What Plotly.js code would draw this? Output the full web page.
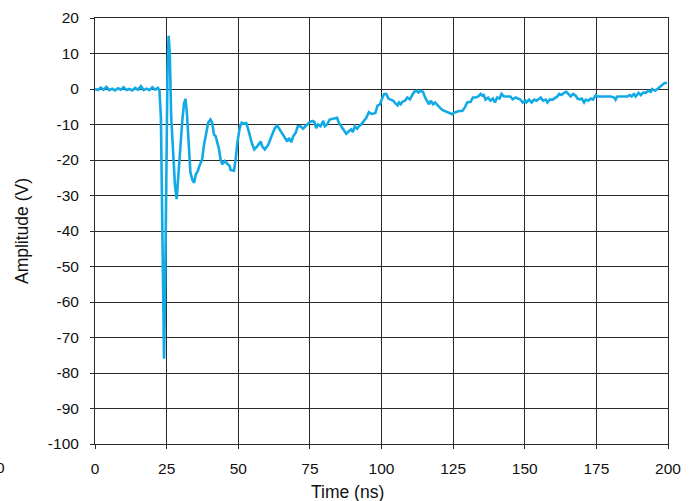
<!DOCTYPE html>
<html>
<head>
<meta charset="utf-8">
<script src="https://cdn.plot.ly/plotly-3.0.1.min.js"></script>
<style>html,body{margin:0;padding:0;background:#fff}#chart{width:695px;height:501px}</style>
</head>
<body>
<div id="chart"></div>
<script>
const timeNs = [0,1,2,3,4,5,6,7,8,9,10,11,12,13,14,15,16,17,18,19,20,21,22,22.5,23,23.4,23.8,24.1,24.5,24.9,25.3,25.7,26.1,26.6,27.3,27.9,28.5,29.1,29.8,30.5,31.1,31.6,32.1,32.7,33.3,34,34.6,35.2,35.8,36.3,36.9,37.4,38,38.8,39.5,40.3,40.9,41.5,42.1,42.7,43.3,43.8,44.4,45.3,45.8,46.5,47,47.3,48.5,49.1,49.7,50.5,51.2,52,52.8,53.7,54.7,55.6,56.6,57.8,58.4,59.3,60.5,61.6,62.8,63.6,64.4,65.3,66.3,67.1,67.7,68.5,69.2,70,70.8,71.7,72.6,73.5,74.7,75.8,76.6,77.2,77.9,78.7,79.7,80.2,81,81.9,83,84,84.5,85.1,86,86.9,87.7,88.6,89.4,90,90.7,91.5,92.1,92.9,93.8,94.7,95.6,96.5,97.3,97.9,98.6,99.4,100.1,100.9,101.7,102.4,103.2,104.1,104.8,105.6,106.1,106.7,107.3,108.2,109,109.9,110.6,111.4,112.2,112.9,113.7,114.5,115.2,116,116.6,117.2,118,118.7,119.5,120.3,121.2,122.2,123,123.8,124.7,125.3,126.1,127,128.2,129.1,129.9,131.1,131.9,132.8,133.8,134.6,135.2,135.7,136.3,137.2,138,138.9,139.6,140.4,141.2,141.9,142.7,143.9,145,145.8,146.8,147.7,148.5,149.3,150.2,150.6,151.5,152.4,153.3,154.1,155,155.6,156.4,157.3,157.9,158.7,159.7,160.6,161.4,162,162.9,163.7,164.5,165.2,166,166.9,167.8,168.4,169.2,169.9,170.7,171.3,172.2,173,173.8,174.8,175.3,176.5,178.3,180,181.2,181.7,182.3,184.1,185.8,186.7,187.3,188.1,188.7,189.7,190.5,191.3,192.2,193.1,194,194.5,195.5,196.3,197.1,198,198.8,199.7];
const amplitudeV = [0,-0.3,0.4,-0.2,0.6,-0.3,0.1,-0.4,0.2,-0.2,0.5,-0.3,0,-0.4,0.3,-0.2,0.8,-0.3,0.1,-0.3,0.5,-0.2,0.3,-0.5,-8,-40,-68,-76,-55,-20,5,15,10,-8,-20,-27,-31,-24,-14,-8.6,-4,-2.8,-7,-17,-23.5,-25.6,-26.4,-24,-23.3,-22,-20.5,-19.8,-16,-12.3,-9.5,-8.6,-9.5,-12.8,-13.3,-15.1,-17,-19.8,-21.2,-20.3,-20.7,-21.2,-21.7,-22.8,-23,-19.8,-15.1,-11,-9.5,-9.8,-9.6,-12,-15.2,-17,-16.2,-14.8,-16.2,-17,-15.7,-13.3,-11,-10.3,-11.4,-12.4,-13.8,-14.8,-13.8,-15,-13.3,-12.4,-10.5,-10.5,-11.2,-10.5,-9.5,-9,-9.3,-11,-10,-10.5,-9,-10.5,-10,-8.6,-8.4,-8.1,-8.1,-9.5,-10.5,-11.4,-12.6,-11.9,-11.4,-12.1,-10.5,-11.2,-10.5,-10,-9,-8.1,-6.5,-7,-6.9,-6.7,-4.7,-4.4,-2.9,-1.4,-1.4,-2.7,-3,-3.3,-4,-4.6,-3.8,-4.3,-3.6,-3.3,-2.4,-2.9,-1.9,-0.8,-0.5,-1,-0.5,-0.8,-2.4,-3.3,-4.3,-3.3,-4.3,-3.8,-4.6,-5.2,-5.9,-6.2,-6.5,-6.7,-7.1,-6.7,-6.5,-6.2,-6.2,-5.2,-3.8,-3.6,-2.4,-2.4,-2.1,-1.4,-1.9,-1.7,-3,-2.4,-3.3,-2.7,-3.8,-2.4,-2.7,-1.4,-2.1,-2.1,-2.1,-2.9,-2.4,-2.7,-3,-3.8,-3.3,-3.8,-3,-3.8,-3,-3.3,-2.9,-2.4,-3.3,-3,-3.8,-3,-3,-2.4,-2.1,-1.4,-1.7,-1.1,-0.8,-1.4,-2.1,-1.4,-1.9,-2.7,-2.9,-2.7,-3.8,-3,-3.3,-2.7,-3,-1.7,-2.1,-2.1,-2.1,-2.1,-2.4,-3,-2.1,-2.1,-2.1,-1.7,-2.1,-1.4,-2.1,-1.1,-1.7,-1,-1.1,-0.5,-0.8,0,-0.5,0,0.5,1,1.7,1.7];
const xTicks = [0,25,50,75,100,125,150,175,200];
const yTicks = [20,10,0,-10,-20,-30,-40,-50,-60,-70,-80,-90,-100];
const xTitle = 'Time (ns)';
const yTitle = 'Amplitude (V)';

const fam = 'Liberation Sans, Arial, Helvetica, sans-serif';
const tickFont = {family: fam, size: 15.5, color: '#111'};
const titleFont = {family: fam, size: 17.5, color: '#111'};
const trace = {
  x: timeNs, y: amplitudeV, type: 'scatter', mode: 'lines',
  line: {color: '#12aae6', width: 2.6, shape: 'linear'},
  hoverinfo: 'skip'
};
const axisCommon = {
  showgrid: true, gridcolor: '#2a2a2a', gridwidth: 1,
  showline: true, linecolor: '#2a2a2a', linewidth: 1, mirror: true,
  zeroline: false, ticks: 'outside', ticklen: 4, tickcolor: '#2a2a2a',
  tickfont: tickFont
};
const layout = {
  width: 695, height: 501,
  margin: {l: 95, r: 27, t: 18, b: 57},
  paper_bgcolor: '#fff', plot_bgcolor: '#fff',
  showlegend: false,
  font: tickFont,
  xaxis: Object.assign({}, axisCommon, {range: [0, 200], tickvals: xTicks, ticktext: xTicks.map(String), ticklabelstandoff: 6}),
  yaxis: Object.assign({}, axisCommon, {range: [-100, 20], tickvals: yTicks, ticktext: yTicks.map(String), ticklabelstandoff: 8}),
  annotations: [
    {text: xTitle, xref: 'paper', yref: 'paper', x: (695/2 - 95) / (695 - 95 - 27), y: 0, xanchor: 'center', yanchor: 'middle', showarrow: false, font: titleFont, yshift: -48},
    {text: yTitle, xref: 'paper', yref: 'paper', x: 0, y: 0.5, xanchor: 'center', yanchor: 'middle', textangle: -90, showarrow: false, font: titleFont, xshift: -73},
    {text: '0', xref: 'paper', yref: 'paper', x: 0, y: 0, xanchor: 'center', yanchor: 'middle', showarrow: false, font: tickFont, xshift: -95, yshift: -23}
  ]
};
Plotly.newPlot('chart', [trace], layout, {displayModeBar: false, staticPlot: true});
</script>
</body>
</html>
